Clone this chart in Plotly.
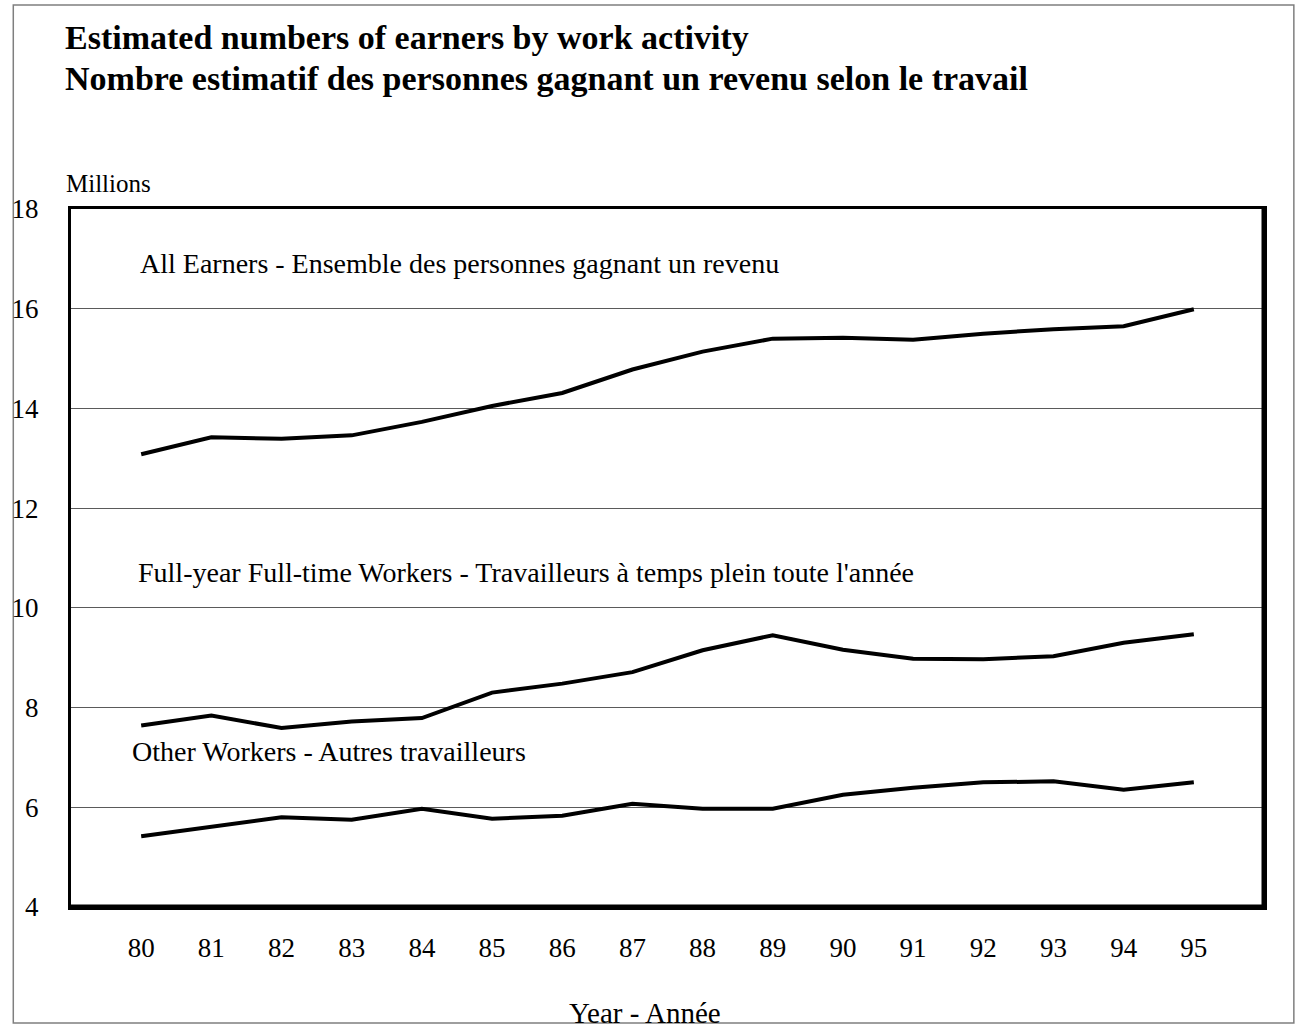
import plotly.graph_objects as go

# Years 1980-1995, shown as two-digit labels
years = list(range(80, 96))
year_labels = [str(y) for y in years]

# Estimated numbers of earners (millions)
all_earners = [13.08, 13.42, 13.39, 13.46, 13.73, 14.05, 14.31, 14.78,
               15.14, 15.40, 15.42, 15.38, 15.50, 15.59, 15.65, 15.99]
full_year_full_time = [7.64, 7.84, 7.59, 7.72, 7.79, 8.30, 8.48, 8.71,
                       9.15, 9.45, 9.16, 8.98, 8.97, 9.03, 9.30, 9.47]
other_workers = [5.42, 5.60, 5.80, 5.75, 5.97, 5.77, 5.83, 6.07,
                 5.97, 5.97, 6.25, 6.39, 6.50, 6.52, 6.35, 6.50]

series_labels = [
    "All Earners - Ensemble des personnes gagnant un revenu",
    "Full-year Full-time Workers - Travailleurs à temps plein toute l'année",
    "Other Workers - Autres travailleurs",
]
y_ticks = [4, 6, 8, 10, 12, 14, 16, 18]

FONT = "Liberation Serif"

W, H = 1296, 1028
L, R, T, B = 65, 1296 - 1264, 209, 1028 - 907


def px_x(px):
    return (px - L) / (W - L - R)


def px_y(py):
    return (H - B - py) / (H - T - B)


fig = go.Figure()
for vals in (all_earners, full_year_full_time, other_workers):
    fig.add_trace(go.Scatter(
        x=years, y=vals, mode="lines",
        line=dict(color="black", width=4),
        showlegend=False, hoverinfo="x+y",
    ))

# Series captions placed inside the plot area
label_pos = [(79.96, 16.9), (79.92, 10.7), (79.84, 7.12)]
for text, (lx, ly) in zip(series_labels, label_pos):
    fig.add_annotation(
        x=lx, y=ly, xref="x", yref="y", text=text, showarrow=False,
        xanchor="left", yanchor="middle",
        font=dict(family=FONT, size=28, color="black"),
    )

# Two-line bold title
fig.add_annotation(
    x=px_x(57), y=px_y(37), xref="paper", yref="paper",
    text="<b>Estimated numbers of earners by work activity</b>",
    showarrow=False, xanchor="left", yanchor="middle",
    font=dict(family=FONT, size=34, color="black"),
)
fig.add_annotation(
    x=px_x(57), y=px_y(79), xref="paper", yref="paper",
    text="<b>Nombre estimatif des personnes gagnant un revenu selon le travail</b>",
    showarrow=False, xanchor="left", yanchor="middle",
    font=dict(family=FONT, size=34, color="black"),
)
fig.add_annotation(
    x=px_x(58), y=px_y(184), xref="paper", yref="paper",
    text="Millions", showarrow=False, xanchor="left", yanchor="middle",
    font=dict(family=FONT, size=25, color="black"),
)
fig.add_annotation(
    x=px_x(642), y=px_y(1013), xref="paper", yref="paper",
    text="Year - Année", showarrow=False, xanchor="center", yanchor="middle",
    font=dict(family=FONT, size=29, color="black"),
)

# Outer frame around the whole figure
fig.add_shape(type="rect", xref="paper", yref="paper",
              x0=px_x(7), x1=px_x(1294), y0=px_y(1023), y1=px_y(5),
              line=dict(color="#7f7f7f", width=1.5), layer="below")
# Heavier right and bottom edges of the plot frame
fig.add_shape(type="line", xref="paper", yref="paper",
              x0=1, x1=1, y0=0, y1=1, line=dict(color="black", width=5))
fig.add_shape(type="line", xref="paper", yref="paper",
              x0=0, x1=1, y0=0, y1=0, line=dict(color="black", width=5))

fig.update_layout(
    width=W, height=H,
    margin=dict(l=L, r=R, t=T, b=B),
    paper_bgcolor="white", plot_bgcolor="white",
    font=dict(family=FONT, size=27, color="black"),
    xaxis=dict(
        range=[79, 96], tickvals=years, ticktext=year_labels,
        showgrid=False, zeroline=False, showline=True, mirror=True,
        linecolor="black", linewidth=3, ticks="",
        ticklabelstandoff=15,
        tickfont=dict(family=FONT, size=27),
    ),
    yaxis=dict(
        range=[4, 18], tickvals=y_ticks,
        showgrid=True, gridcolor="#5a5a5a", gridwidth=1,
        zeroline=False, showline=True, mirror=True,
        linecolor="black", linewidth=3, ticks="",
        ticklabelstandoff=24,
        tickfont=dict(family=FONT, size=27),
    ),
)

fig.write_html("out.html")
